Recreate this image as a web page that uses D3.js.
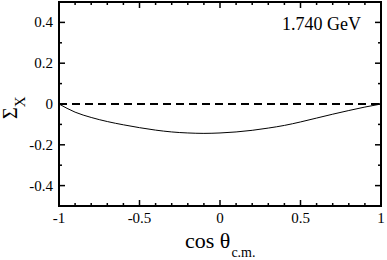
<!DOCTYPE html>
<html>
<head>
<meta charset="utf-8">
<script src="https://cdn.jsdelivr.net/npm/d3@7"></script>
<style>
  body { margin: 0; background: #fff; }
  text { font-family: "Liberation Serif", "DejaVu Serif", serif; fill: #000; }
</style>
</head>
<body>
<div id="chart"></div>
<script>
// curve values
const cosTheta = [-1, -0.9, -0.8, -0.7, -0.6, -0.5, -0.4, -0.3, -0.2, -0.1, 0,
                  0.1, 0.2, 0.3, 0.4, 0.5, 0.6, 0.7, 0.8, 0.9, 1];
const sigmaX = [0, -0.040, -0.066, -0.086, -0.102, -0.116, -0.128, -0.137, -0.142, -0.144, -0.142,
                -0.137, -0.129, -0.118, -0.105, -0.088, -0.069, -0.050, -0.032, -0.015, 0];
const xTicks = [-1, -0.5, 0, 0.5, 1];
const yTicks = [-0.4, -0.2, 0, 0.2, 0.4];
const energyLabel = "1.740 GeV";

const width = 387;
const height = 260;
const margin = { top: 2, right: 6, bottom: 54, left: 59 };

const x = d3.scaleLinear().domain([-1, 1]).range([margin.left, width - margin.right]);
const y = d3.scaleLinear().domain([-0.5, 0.5]).range([height - margin.bottom, margin.top]);

const svg = d3.select("#chart").append("svg")
    .attr("width", width)
    .attr("height", height);

const x0 = margin.left, x1 = width - margin.right;
const y0 = height - margin.bottom, y1 = margin.top;

// minor + major ticks, inward, on all four sides
const xMinor = d3.range(-10, 11).map(d => d / 10);
const yMinor = d3.range(-5, 6).map(d => d / 10);
const onStep = (v, s) => Math.abs(v / s - Math.round(v / s)) < 1e-9;

const ticks = svg.append("g").attr("stroke", "#000").attr("stroke-width", 1.5);
xMinor.forEach(v => {
  const len = onStep(v, 0.5) ? 6 : 3;
  ticks.append("line").attr("x1", x(v)).attr("x2", x(v)).attr("y1", y0).attr("y2", y0 - len);
  ticks.append("line").attr("x1", x(v)).attr("x2", x(v)).attr("y1", y1).attr("y2", y1 + len);
});
yMinor.forEach(v => {
  const len = onStep(v, 0.2) ? 6 : 3;
  ticks.append("line").attr("y1", y(v)).attr("y2", y(v)).attr("x1", x0).attr("x2", x0 + len);
  ticks.append("line").attr("y1", y(v)).attr("y2", y(v)).attr("x1", x1).attr("x2", x1 - len);
});

// tick labels
const fmt = v => String(v);
svg.append("g").selectAll("text")
  .data(xTicks)
  .join("text")
  .attr("x", d => x(d))
  .attr("y", y0 + 17)
  .attr("text-anchor", "middle")
  .attr("font-size", 15)
  .text(fmt);

svg.append("g").selectAll("text")
  .data(yTicks)
  .join("text")
  .attr("x", x0 - 6)
  .attr("y", d => y(d))
  .attr("dy", "0.33em")
  .attr("text-anchor", "end")
  .attr("font-size", 15)
  .text(fmt);

// dashed zero line
svg.append("line")
  .attr("x1", x0).attr("x2", x1)
  .attr("y1", y(0)).attr("y2", y(0))
  .attr("stroke", "#000")
  .attr("stroke-width", 2)
  .attr("stroke-dasharray", "8,5");

// model curve
const line = d3.line()
  .x((d, i) => x(cosTheta[i]))
  .y(d => y(d))
  .curve(d3.curveMonotoneX);

svg.append("path")
  .datum(sigmaX)
  .attr("fill", "none")
  .attr("stroke", "#000")
  .attr("stroke-width", 1)
  .attr("d", line);

// frame
svg.append("rect")
  .attr("x", x0).attr("y", y1)
  .attr("width", x1 - x0).attr("height", y0 - y1)
  .attr("fill", "none")
  .attr("stroke", "#000")
  .attr("stroke-width", 2);

// energy label
svg.append("text")
  .attr("x", x1 - 20)
  .attr("y", 30)
  .attr("text-anchor", "end")
  .attr("font-size", 18)
  .text(energyLabel);

// axis titles
const xt = svg.append("text")
  .attr("x", 185)
  .attr("y", 248)
  .attr("font-size", 22);
xt.append("tspan").text("cos θ");
xt.append("tspan").attr("dy", 9).attr("dx", 1).attr("font-size", 14).text("c.m.");

const yt = svg.append("text")
  .attr("transform", `translate(17, 119) rotate(-90)`)
  .attr("font-size", 20);
yt.append("tspan").text("Σ");
yt.append("tspan").attr("dy", 8).attr("font-size", 15).text("X");
</script>
</body>
</html>
